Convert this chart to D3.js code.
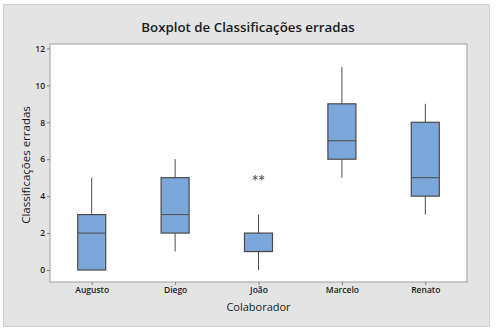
<!DOCTYPE html>
<html>
<head>
<meta charset="utf-8">
<script src="https://cdn.jsdelivr.net/npm/d3@7"></script>
<style>
  html, body { margin: 0; padding: 0; background: #ffffff; }
  svg { display: block; }
  text { font-family: "Open Sans", "Noto Sans", sans-serif; fill: #1a1a1a; }
</style>
</head>
<body>
<div id="chart"></div>
<script>
// Errors per collaborator: five-number summaries and outliers
const collaborators = ["Augusto", "Diego", "João", "Marcelo", "Renato"];
const whiskerLow  = [0, 1, 0, 5, 3];
const quartile1   = [0, 2, 1, 6, 4];
const medians     = [2, 3, 1, 7, 5];
const quartile3   = [3, 5, 2, 9, 8];
const whiskerHigh = [5, 6, 3, 11, 9];
// outliers: [collaborator index, value]; ties are drawn side by side
const outliers = [[2, 5], [2, 5]];
const yTicks = [0, 2, 4, 6, 8, 10, 12];

const W = 496, H = 332;
const plot = { left: 50, top: 44, right: 467, bottom: 282 };

const svg = d3.select("#chart").append("svg")
  .attr("width", W).attr("height", H);

// outer panel
svg.append("rect")
  .attr("x", 3.5).attr("y", 4.5).attr("width", 486).attr("height", 322)
  .attr("fill", "#e4e4e4").attr("stroke", "#d0d0d0");

// plot area
svg.append("rect")
  .attr("x", plot.left).attr("y", plot.top)
  .attr("width", plot.right - plot.left).attr("height", plot.bottom - plot.top)
  .attr("fill", "#ffffff").attr("stroke", "#a0a0a0");

const x = d3.scalePoint().domain(collaborators)
  .range([plot.left, plot.right]).padding(0.5);
const y = d3.scaleLinear().domain([-0.65, 12.24])
  .range([plot.bottom, plot.top]);

// axes
const yAxis = svg.append("g")
  .attr("transform", `translate(${plot.left},0)`)
  .call(d3.axisLeft(y).tickValues(yTicks).tickSize(3).tickPadding(2));
const xAxis = svg.append("g")
  .attr("transform", `translate(0,${plot.bottom})`)
  .call(d3.axisBottom(x).tickSize(3).tickPadding(2));
[yAxis, xAxis].forEach(g => {
  g.select(".domain").remove();
  g.selectAll(".tick line").attr("stroke", "#808080");
  g.selectAll(".tick text")
    .style("font-size", "8.5px").style("font-weight", "600").attr("fill", "#1a1a1a");
});

const boxW = 28;
const data = collaborators.map((c, i) => ({
  c, lo: whiskerLow[i], q1: quartile1[i], med: medians[i], q3: quartile3[i], hi: whiskerHigh[i]
}));

const g = svg.append("g");
const stroke = "#4a4a4a";
// whiskers
g.selectAll("line.wh-up").data(data).join("line")
  .attr("x1", d => x(d.c)).attr("x2", d => x(d.c))
  .attr("y1", d => y(d.q3)).attr("y2", d => y(d.hi))
  .attr("stroke", stroke).attr("stroke-width", 1);
g.selectAll("line.wh-dn").data(data).join("line")
  .attr("x1", d => x(d.c)).attr("x2", d => x(d.c))
  .attr("y1", d => y(d.q1)).attr("y2", d => y(d.lo))
  .attr("stroke", stroke).attr("stroke-width", 1);
// boxes
g.selectAll("rect.box").data(data).join("rect")
  .attr("x", d => x(d.c) - boxW / 2).attr("width", boxW)
  .attr("y", d => y(d.q3)).attr("height", d => y(d.q1) - y(d.q3))
  .attr("fill", "#7ba7da").attr("stroke", stroke).attr("stroke-width", 1.2);
// medians
g.selectAll("line.med").data(data).join("line")
  .attr("x1", d => x(d.c) - boxW / 2).attr("x2", d => x(d.c) + boxW / 2)
  .attr("y1", d => y(d.med)).attr("y2", d => y(d.med))
  .attr("stroke", stroke).attr("stroke-width", 1);

// outlier asterisks
const tieCount = {};
const sym = d3.symbol().type(d3.symbolAsterisk).size(22);
outliers.forEach(([i, v]) => {
  const key = i + ":" + v;
  tieCount[key] = (tieCount[key] || 0) + 1;
});
const placed = {};
outliers.forEach(([i, v]) => {
  const key = i + ":" + v;
  const n = tieCount[key];
  const k = placed[key] = (placed[key] || 0);
  placed[key]++;
  const dx = (k - (n - 1) / 2) * 6.6;
  svg.append("path")
    .attr("d", sym())
    .attr("transform", `translate(${x(collaborators[i]) + dx},${y(v)})`)
    .attr("fill", "none").attr("stroke", "#555555").attr("stroke-width", 1);
});

// titles
svg.append("text")
  .attr("x", 248).attr("y", 32).attr("text-anchor", "middle")
  .style("font-size", "13.3px").style("font-weight", "600")
  .text("Boxplot de Classificações erradas");
svg.append("text")
  .attr("x", (plot.left + plot.right) / 2).attr("y", 311).attr("text-anchor", "middle")
  .style("font-size", "11px")
  .text("Colaborador");
svg.append("text")
  .attr("transform", `translate(30,${(plot.top + plot.bottom) / 2 + 2}) rotate(-90)`)
  .attr("text-anchor", "middle")
  .style("font-size", "11.5px")
  .text("Classificações erradas");
</script>
</body>
</html>
